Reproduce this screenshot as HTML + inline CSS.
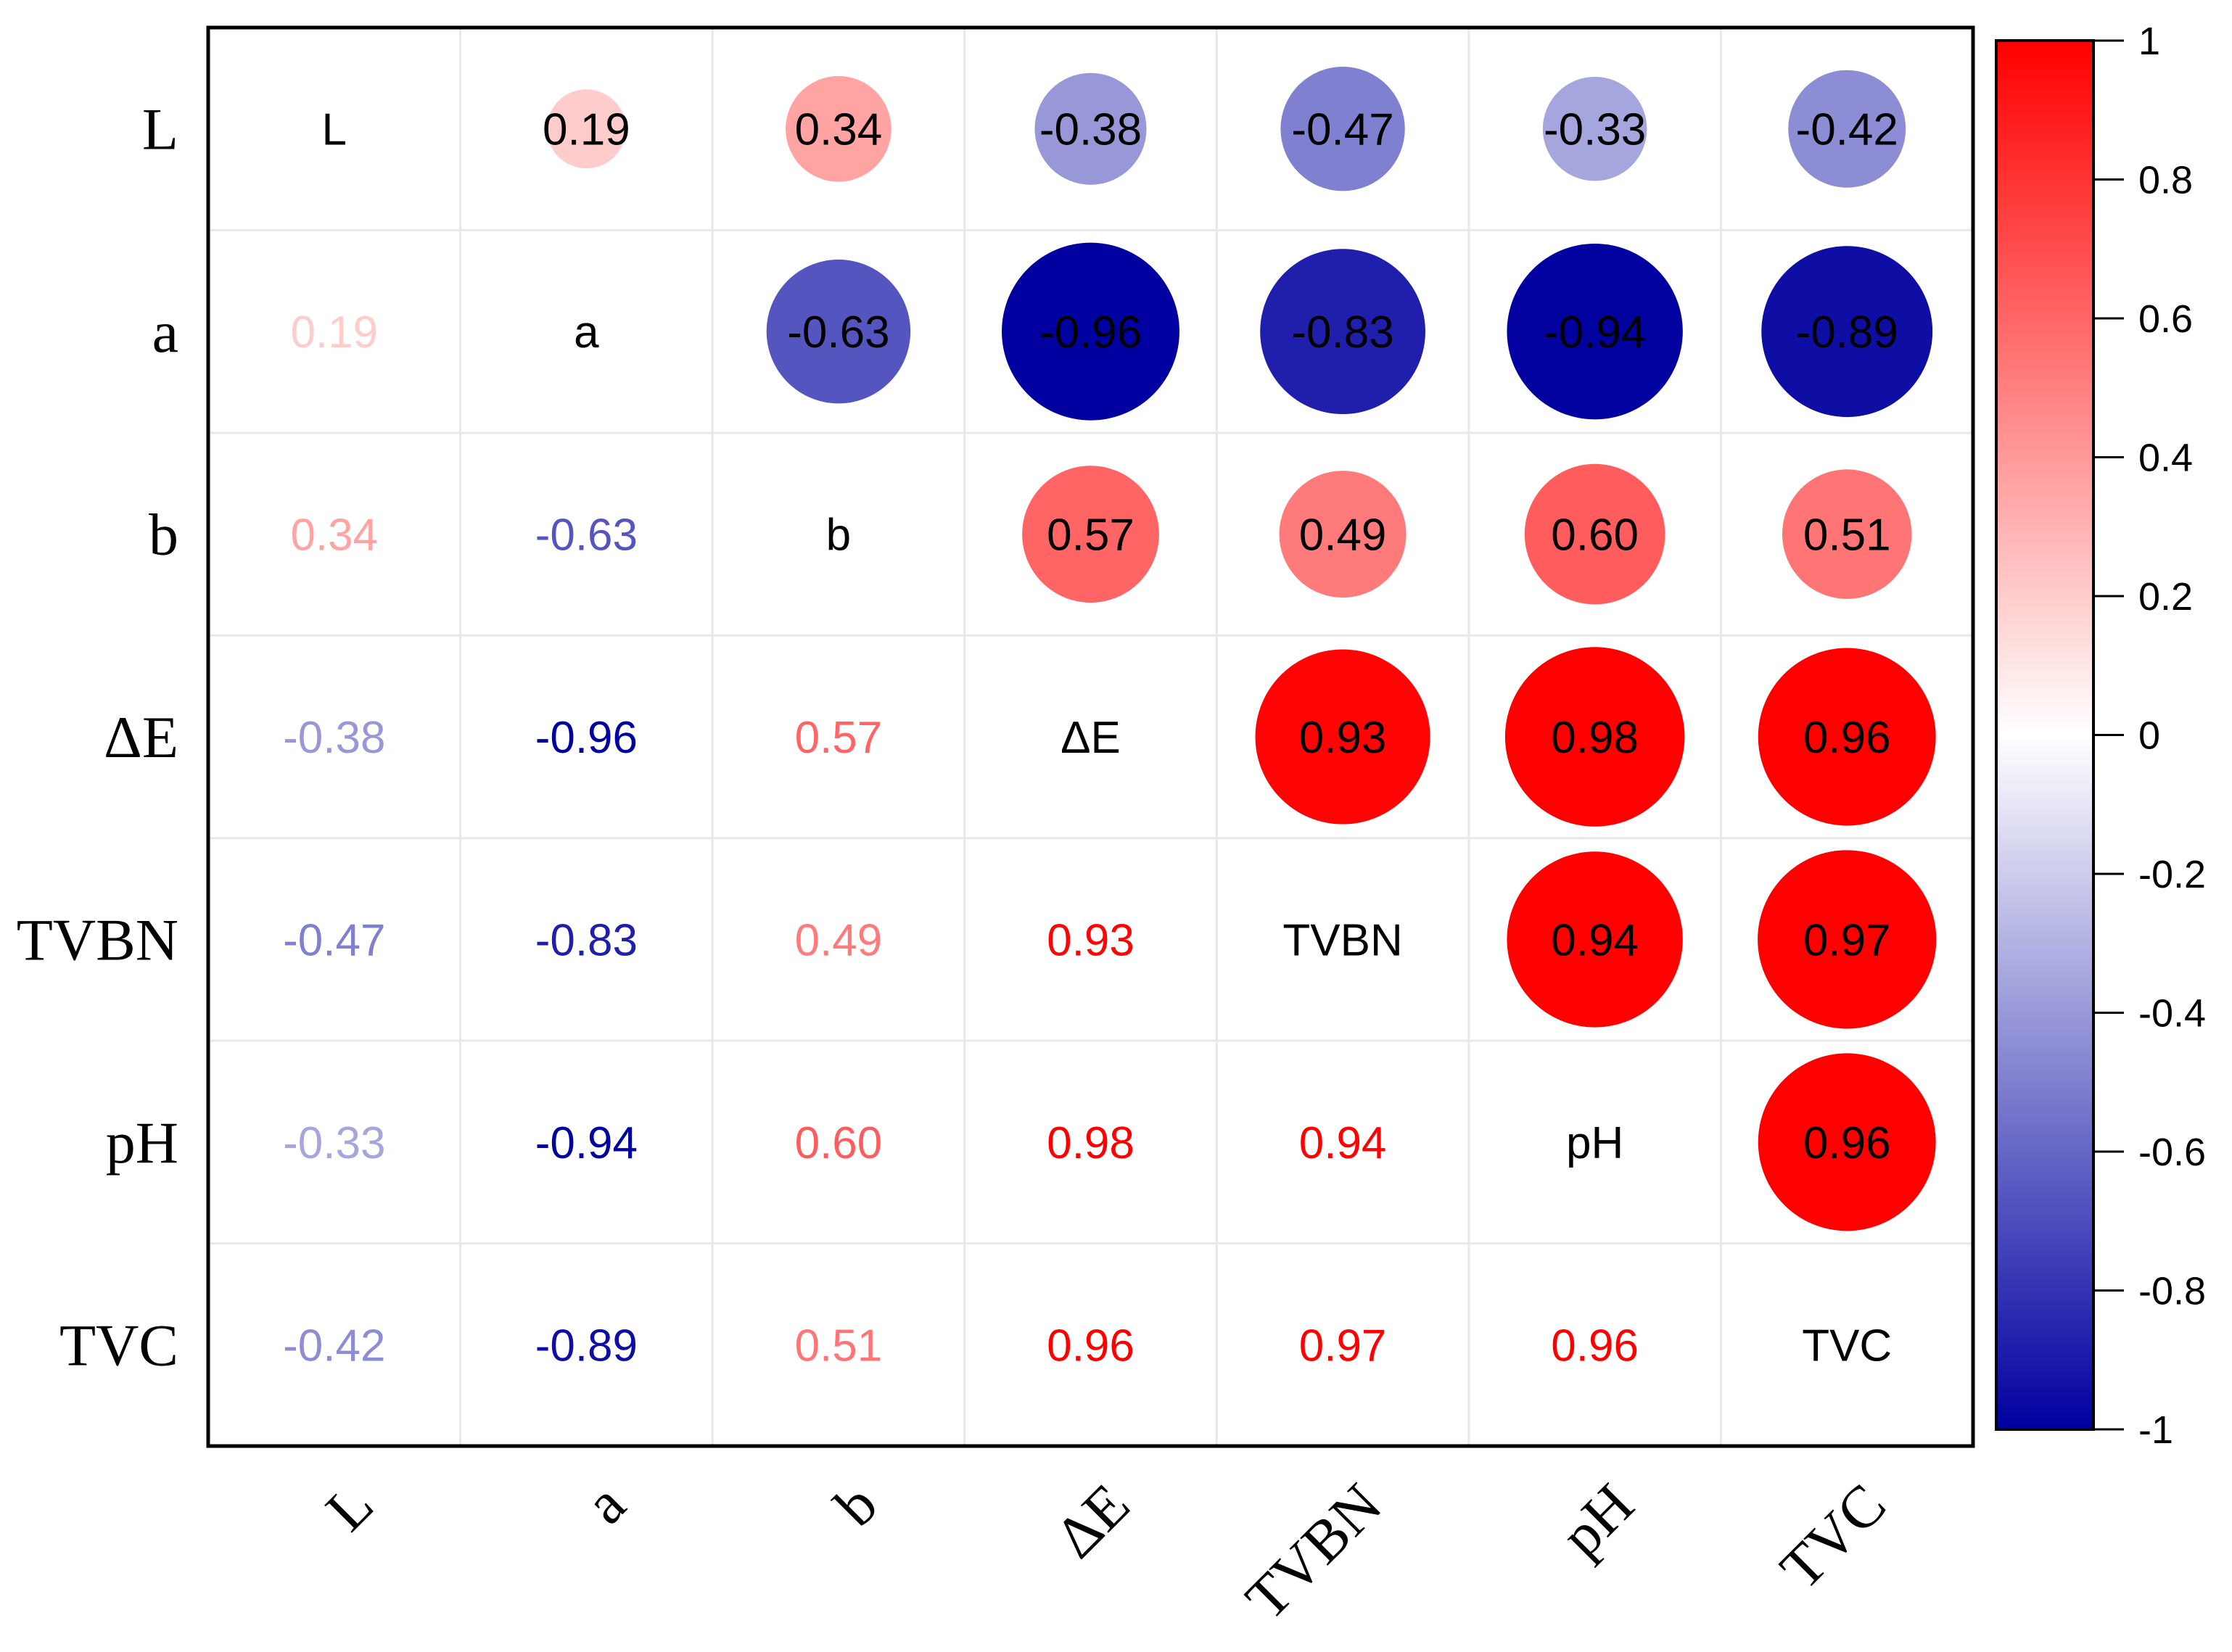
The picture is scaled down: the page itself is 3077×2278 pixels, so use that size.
<!DOCTYPE html>
<html><head><meta charset="utf-8"><title>Correlation matrix</title>
<style>html,body{margin:0;padding:0;background:#fff;}svg{display:block;}</style></head>
<body>
<svg id="chart" xmlns="http://www.w3.org/2000/svg" width="3077" height="2278" viewBox="0 0 3077 2278">
<defs>
<linearGradient id="cbgrad" x1="0" y1="0" x2="0" y2="1">
<stop offset="0" stop-color="#ff0000"/><stop offset="0.5" stop-color="#ffffff"/><stop offset="1" stop-color="#0000a0"/>
</linearGradient>
</defs>
<g id="grid"></g>
<g id="marks"></g>
<g id="labels"></g>
<rect x="287" y="38" width="2433" height="1956" fill="none" stroke="#000" stroke-width="5"/>
<g id="colorbar"></g>
</svg>
<script>
const variables = ["L","a","b","ΔE","TVBN","pH","TVC"];
const rowL  = [1, 0.19, 0.34, -0.38, -0.47, -0.33, -0.42];
const rowA  = [0.19, 1, -0.63, -0.96, -0.83, -0.94, -0.89];
const rowB  = [0.34, -0.63, 1, 0.57, 0.49, 0.60, 0.51];
const rowDE = [-0.38, -0.96, 0.57, 1, 0.93, 0.98, 0.96];
const rowTVBN = [-0.47, -0.83, 0.49, 0.93, 1, 0.94, 0.97];
const rowPH = [-0.33, -0.94, 0.60, 0.98, 0.94, 1, 0.96];
const rowTVC = [-0.42, -0.89, 0.51, 0.96, 0.97, 0.96, 1];
const matrix = [rowL,rowA,rowB,rowDE,rowTVBN,rowPH,rowTVC];
const cbTicks = [1,0.8,0.6,0.4,0.2,0,-0.2,-0.4,-0.6,-0.8,-1];

const NS="http://www.w3.org/2000/svg";
const X0=287,X1=2720,Y0=38,Y1=1994,n=variables.length;
const cw=(X1-X0)/n, ch=(Y1-Y0)/n;
const xc=i=>X0+cw*(i+0.5), yc=j=>Y0+ch*(j+0.5);
const rScale=v=>125*Math.sqrt(Math.abs(v));
function color(v){
  let r,g,b;
  const t=Math.min(1,Math.abs(v)*1.06);
  if(v>=0){r=255;g=Math.round(255*(1-t));b=g;}
  else{r=Math.round(255*(1-t));g=r;b=Math.round(255-(255-160)*t);}
  return `rgb(${r},${g},${b})`;
}
function mk(tag,attrs,parent){const e=document.createElementNS(NS,tag);for(const k in attrs)e.setAttribute(k,attrs[k]);parent.appendChild(e);return e;}
const grid=document.getElementById('grid'),marks=document.getElementById('marks'),labels=document.getElementById('labels'),cb=document.getElementById('colorbar');
for(let i=1;i<n;i++){
  let l=mk('line',{x1:X0+cw*i,x2:X0+cw*i,y1:Y0,y2:Y1,stroke:'#e8e8e8','stroke-width':3},grid);
  
  
  let h=mk('line',{x1:X0,x2:X1,y1:Y0+ch*i,y2:Y0+ch*i,stroke:'#e8e8e8','stroke-width':3},grid);
  
  
}
const sans='"Liberation Sans", Arial, sans-serif', serif='"Liberation Serif", "Times New Roman", serif';
for(let j=0;j<n;j++){
  for(let i=0;i<n;i++){
    const v=matrix[j][i];
    if(i===j){
      const t=mk('text',{x:xc(i),y:yc(j)+22,'text-anchor':'middle','font-family':sans,'font-size':62,fill:'#000'},marks);
      t.textContent=variables[i];
      
      
    } else if(i>j){
      const c=mk('circle',{cx:xc(i),cy:yc(j),r:rScale(v),fill:color(v)},marks);
      
      
      const t=mk('text',{x:xc(i),y:yc(j)+22,'text-anchor':'middle','font-family':sans,'font-size':62,fill:'#000'},marks);
      t.textContent=v.toFixed(2);
      
      
    } else {
      const t=mk('text',{x:xc(i),y:yc(j)+22,'text-anchor':'middle','font-family':sans,'font-size':62,fill:color(v)},marks);
      t.textContent=v.toFixed(2);
      
      
    }
  }
  const rl=mk('text',{x:246,y:yc(j)+28,'text-anchor':'end','font-family':serif,'font-size':82,fill:'#000'},labels);
  rl.textContent=variables[j];
  
  
  const ax=xc(j)+58, ay=2080;
  const xl=mk('text',{x:ax,y:ay,'text-anchor':'end','font-family':serif,'font-size':82,fill:'#000',transform:`rotate(-45 ${ax} ${ay})`},labels);
  xl.textContent=variables[j];
  
  
}
// colorbar
const CBX=2752,CBW=134,CBT=56,CBB=1971;
const cbv=v=>CBT+(1-v)/2*(CBB-CBT);
const cr=mk('rect',{x:CBX,y:CBT,width:CBW,height:CBB-CBT,fill:'url(#cbgrad)',stroke:'#000','stroke-width':4},cb);


cbTicks.forEach(v=>{
  const y=cbv(v);
  const tk=mk('line',{x1:CBX+CBW,x2:2928,y1:y,y2:y,stroke:'#000','stroke-width':3},cb);
  
  
  const t=mk('text',{x:2948,y:y+19,'font-family':sans,'font-size':54,fill:'#000'},cb);
  t.textContent=(v===0?'0':(v===1?'1':(v===-1?'-1':String(v))));
  
  
});
</script>
</body></html>
